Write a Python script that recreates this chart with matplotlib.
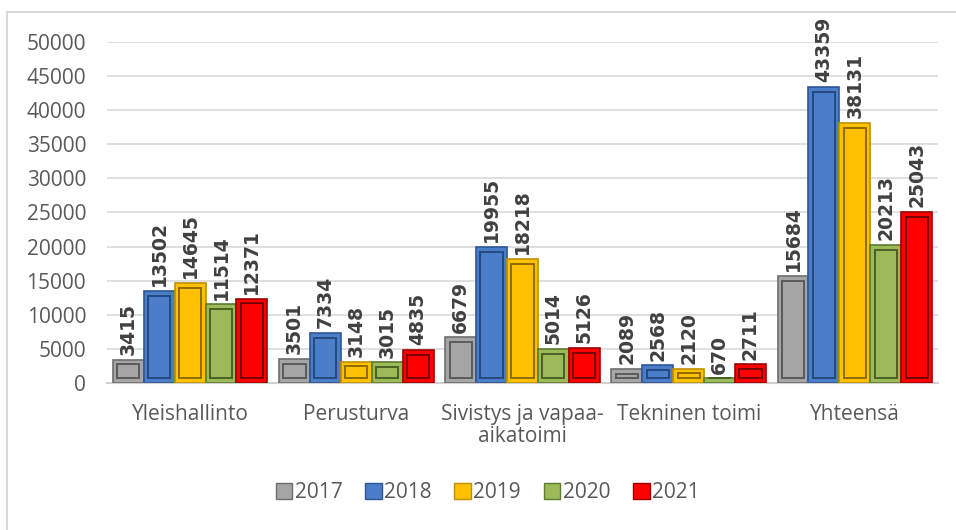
import numpy as np
import matplotlib.pyplot as plt
from matplotlib.lines import Line2D
from matplotlib.patches import Patch

plt.rcParams['font.family'] = ['Open Sans', 'DejaVu Sans']

categories = ["Yleishallinto", "Perusturva", "Sivistys ja vapaa-\naikatoimi",
              "Tekninen toimi", "Yhteensä"]
years = ["2017", "2018", "2019", "2020", "2021"]
values = {
    "2017": [3415, 3501, 6679, 2089, 15684],
    "2018": [13502, 7334, 19955, 2568, 43359],
    "2019": [14645, 3148, 18218, 2120, 38131],
    "2020": [11514, 3015, 5014, 670, 20213],
    "2021": [12371, 4835, 5126, 2711, 25043],
}
colors = ["#A5A5A5", "#4A7EC8", "#FFC000", "#9BBB59", "#FF0000"]
edges = ["#6E6E6E", "#2F5597", "#BF9000", "#5E7A2E", "#A00000"]
inner_edges = ["#5A5A5A", "#24487F", "#8F6C00", "#4A6124", "#7A0000"]

fig = plt.figure(figsize=(9.56, 5.30), dpi=100)
ax = fig.add_axes([0.1119, 0.2774, 0.8692, 0.6434])

x = np.arange(len(categories))
w = 0.186
inset = 700

for i, yr in enumerate(years):
    pos = x + (i - 2) * w
    vals = np.array(values[yr])
    ax.bar(pos, vals, width=w, color=colors[i], edgecolor=edges[i], linewidth=1.2, zorder=3)
    # bevel look: inner panel
    inner_h = np.where(vals > 2.5 * inset, vals - 2 * inset, 0)
    ax.bar(pos, inner_h, width=w * 0.72, bottom=inset, color=colors[i],
           edgecolor=inner_edges[i], linewidth=1.4, zorder=4)
    for p, v in zip(pos, vals):
        ax.text(p, v + 700, str(v), rotation=90, ha='center', va='bottom',
                fontsize=13.5, fontweight='bold', color='#404040', zorder=5,
                family='DejaVu Sans')

ax.set_xlim(-0.5, len(categories) - 0.5)
ax.set_ylim(0, 50000)
ax.set_yticks(np.arange(0, 50001, 5000))
ax.set_xticks(x)
ax.set_xticklabels(categories, fontsize=15, color='#595959', linespacing=1.1)
ax.tick_params(axis='y', labelsize=15, labelcolor='#595959', length=0, pad=15)
ax.tick_params(axis='x', length=0, pad=15)
ax.grid(axis='y', color='#D9D9D9', linewidth=1.2, zorder=0)
ax.set_axisbelow(True)
for s in ['top', 'right', 'left']:
    ax.spines[s].set_visible(False)
ax.spines['bottom'].set_color('#D0D0D0')
ax.spines['bottom'].set_linewidth(1.5)

handles = [Patch(facecolor=colors[i], edgecolor=edges[i], label=yr) for i, yr in enumerate(years)]
fig.legend(handles=handles, loc='center', bbox_to_anchor=(0.51, 1 - 493 / 530), ncol=5,
           frameon=False, fontsize=15, handlelength=0.8, handleheight=0.8,
           handletextpad=0.1, columnspacing=1.1, labelcolor='#595959')

# chart frame
fig.add_artist(Line2D([7 / 956, 7 / 956], [0, 1 - 12 / 530], color='#D9D9D9', linewidth=1.5))
fig.add_artist(Line2D([7 / 956, 1], [1 - 12 / 530, 1 - 12 / 530], color='#D9D9D9', linewidth=1.5))

fig.savefig("out.png", dpi=100)
